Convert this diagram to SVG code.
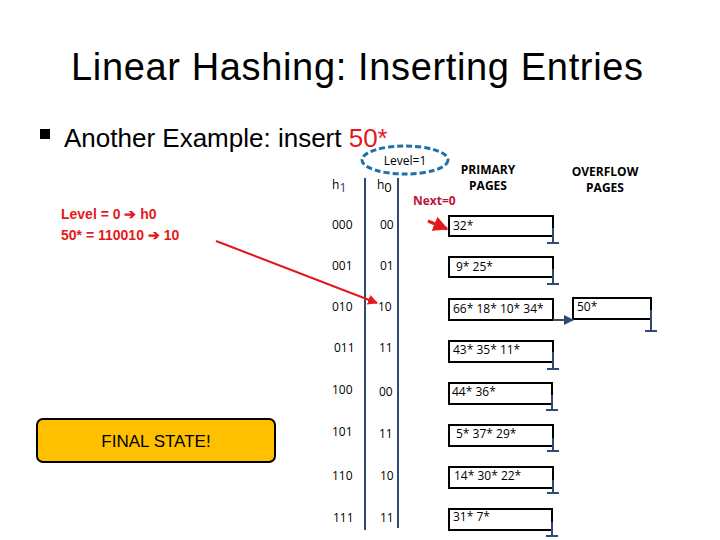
<svg xmlns="http://www.w3.org/2000/svg" width="720" height="540" viewBox="0 0 720 540">
<style>
.t{font-family:"Liberation Sans",Arial,sans-serif}
.c{font-family:"Open Sans","Liberation Sans",sans-serif;font-size:12px;fill:#000}
.b{fill:#fff;stroke:#000;stroke-width:2}
.g{stroke:#2f4b73;stroke-width:2;fill:none}
.r{fill:#e31a1c;font-family:"Liberation Sans",sans-serif;font-weight:bold;font-size:14px}
</style>
<defs>
<marker id="ra" viewBox="0 0 10 10" refX="9" refY="5" markerWidth="5" markerHeight="5" orient="auto"><path d="M0,0L10,5L0,10z" fill="#e31a1c"/></marker>
<marker id="ba" viewBox="0 0 10 10" refX="9" refY="5" markerWidth="5" markerHeight="5" orient="auto"><path d="M0,0L10,5L0,10z" fill="#2f4b73"/></marker>
</defs>
<rect width="720" height="540" fill="#fff"/>
<text class="t" x="357" y="80" font-size="38" text-anchor="middle" textLength="572">Linear Hashing: Inserting Entries</text>
<rect x="40" y="129" width="10" height="10" fill="#000"/>
<text class="t" x="64" y="147" font-size="26">Another Example: insert <tspan fill="#e31a1c">50*</tspan></text>
<g id="info"><text class="r" x="61" y="219">Level = 0 ➔ h0</text><text class="r" x="61" y="240">50* = 110010 ➔ 10</text></g>
<g id="final"><rect x="37" y="419" width="238" height="43" rx="6" fill="#ffc000" stroke="#000" stroke-width="2"/><text class="t" x="156" y="447" font-size="17" text-anchor="middle">FINAL STATE!</text></g>
<g id="level"><ellipse cx="405" cy="160" rx="43" ry="14" fill="none" stroke="#1f6fa8" stroke-width="3" stroke-dasharray="6,3"/><text class="c" x="405" y="165" text-anchor="middle">Level=1</text></g>
<text class="c" x="332" y="189" font-size="15">h<tspan font-size="13" dy="3" fill="#2f4b73">1</tspan></text>
<text class="c" x="377" y="189" font-size="15">h<tspan font-size="13" dy="3">0</tspan></text>
<text class="c" x="488" y="174" text-anchor="middle" font-weight="bold" font-size="12">PRIMARY</text>
<text class="c" x="488" y="190" text-anchor="middle" font-weight="bold" font-size="12">PAGES</text>
<text class="c" x="605" y="176" text-anchor="middle" font-weight="bold" font-size="12">OVERFLOW</text>
<text class="c" x="605" y="192" text-anchor="middle" font-weight="bold" font-size="12">PAGES</text>
<text x="413" y="205" font-family="'Open Sans','Liberation Sans',sans-serif" font-size="12" font-weight="bold" fill="#c0143c">Next=0</text>
<line x1="365" y1="178" x2="365" y2="530" class="g"/>
<line x1="398" y1="178" x2="398" y2="528" class="g"/>
<g class="c">
<text x="332" y="229">000</text><text x="380" y="229">00</text>
<text x="332" y="270">001</text><text x="380" y="270">01</text>
<text x="332" y="311">010</text><text x="378" y="311">10</text>
<text x="334" y="352">011</text><text x="379" y="352">11</text>
<text x="332" y="394">100</text><text x="379" y="396">00</text>
<text x="332" y="436">101</text><text x="379" y="438">11</text>
<text x="332" y="480">110</text><text x="380" y="480">10</text>
<text x="333" y="522">111</text><text x="380" y="522">11</text>
</g>
<g id="p0"><rect class="b" x="449" y="216" width="104" height="20"/><text class="c" x="453" y="230">32*</text></g>
<g id="p1"><rect class="b" x="449" y="257" width="104" height="20"/><text class="c" x="456" y="271">9* 25*</text></g>
<g id="p2"><rect class="b" x="449" y="299" width="104" height="21"/><text class="c" x="453" y="313">66*  18* 10* 34*</text></g>
<g id="p3"><rect class="b" x="449" y="341" width="104" height="21"/><text class="c" x="453" y="354">43*  35*   11*</text></g>
<g id="p4"><rect class="b" x="449" y="383" width="103" height="21"/><text class="c" x="452" y="396">44*   36*</text></g>
<g id="p5"><rect class="b" x="449" y="425" width="104" height="21"/><text class="c" x="456" y="438">5*   37*  29*</text></g>
<g id="p6"><rect class="b" x="449" y="467" width="104" height="21"/><text class="c" x="454" y="480">14*   30* 22*</text></g>
<g id="p7"><rect class="b" x="449" y="509" width="103" height="21"/><text class="c" x="453" y="521">31* 7*</text></g>
<g id="o2"><rect class="b" x="573" y="298" width="78" height="21"/><text class="c" x="577" y="311">50*</text></g>
<g id="connectors" class="g">
<path d="M553,228V243M547,243H559"/>
<path d="M553,269V284M547,284H559"/>
<path d="M553,352V369M547,369H559"/>
<path d="M552,395V410M546,410H558"/>
<path d="M553,438V451M547,451H559"/>
<path d="M553,480V493M547,493H559"/>
<path d="M552,522V536M546,536H558"/>
<path d="M651,310V331M645,331H657"/>
<path d="M553,320H573" marker-end="url(#ba)"/>
<line x1="216" y1="241" x2="377" y2="303" stroke="#e31a1c" stroke-width="2" marker-end="url(#ra)"/>
<line x1="428" y1="221" x2="447" y2="229" stroke="#e31a1c" stroke-width="3" marker-end="url(#ra)"/>
</g>
</svg>
